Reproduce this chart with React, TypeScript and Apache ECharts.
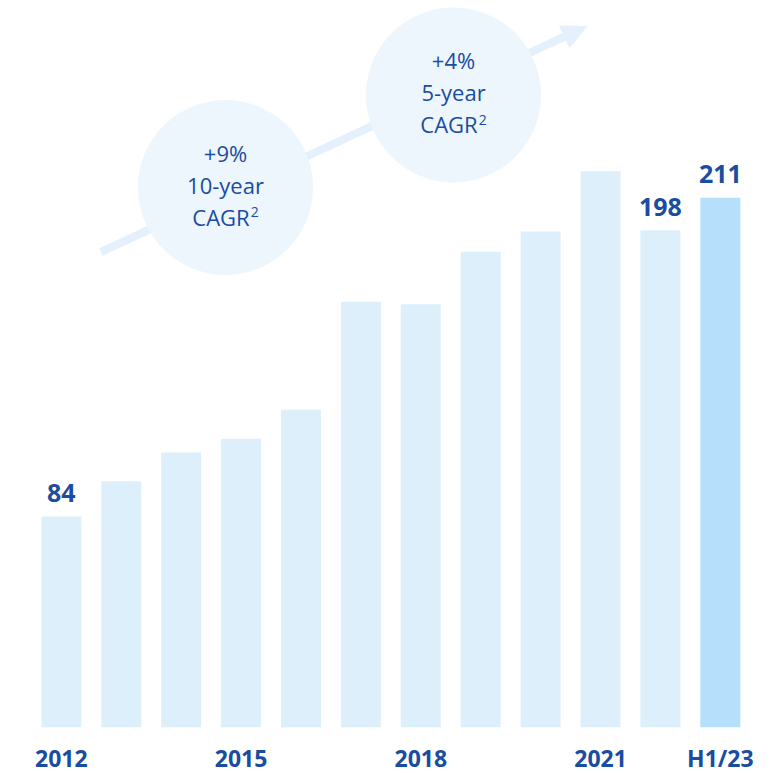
import React, { useEffect, useRef } from "react";
import * as echarts from "echarts";

const categories = ["2012", "2013", "2014", "2015", "2016", "2017", "2018", "2019", "2020", "2021", "2022", "H1/23"];
const values = [84, 98, 109.5, 115, 126.5, 169.5, 168.5, 189.5, 197.5, 221.5, 198, 211];
const labelledIndices = [0, 10, 11];
const shownTickIndices = [0, 3, 6, 9, 11];
const cagrBubbles = [
  { lines: ["+9%", "10-year", "CAGR{s|2}"] },
  { lines: ["+4%", "5-year", "CAGR{s|2}"] },
];

const DARK = "#1A4CA1";
const BAR = "#DEEFFC";
const BAR_LAST = "#B5DFFB";
const BUBBLE = "#EDF6FD";
const ARROW = "#E4F1FC";

export default function App() {
  const ref = useRef<HTMLDivElement>(null);
  useEffect(() => {
    if (!ref.current) return;
    const chart = echarts.init(ref.current, undefined, { renderer: "svg" });

    const sx = 101, sy = 252, ex = 566, ey = 36;
    const len = Math.hypot(ex - sx, ey - sy);
    const dx = (ex - sx) / len, dy = (ey - sy) / len;
    const nx = -dy, ny = dx;
    const headLen = 26, headHalf = 12.5;
    const tip = [ex + dx * (headLen - 2), ey + dy * (headLen - 2)];
    const base = [tip[0] - dx * headLen, tip[1] - dy * headLen];

    const bubbleCenters = [
      [225.5, 187.5],
      [453.5, 95],
    ];
    const R = 87.5;

    const graphics: any[] = [
      {
        type: "line",
        shape: { x1: sx, y1: sy, x2: base[0] + dx * 2, y2: base[1] + dy * 2 },
        style: { stroke: ARROW, lineWidth: 8 },
        z: 1,
      },
      {
        type: "polygon",
        shape: {
          points: [
            tip,
            [base[0] + nx * headHalf, base[1] + ny * headHalf],
            [base[0] - nx * headHalf, base[1] - ny * headHalf],
          ],
        },
        style: { fill: ARROW },
        z: 1,
      },
    ];
    cagrBubbles.forEach((b, i) => {
      const [cx, cy] = bubbleCenters[i];
      graphics.push({
        type: "circle",
        shape: { cx, cy, r: R },
        style: { fill: BUBBLE },
        z: 2,
      });
      b.lines.forEach((t, j) => {
        graphics.push({
          type: "text",
          x: cx,
          y: cy - 3 + (j - 1) * 32,
          style: {
            text: t,
            fill: DARK,
            font: '22px "Open Sans"',
            align: "center",
            verticalAlign: "middle",
            rich: {
              s: {
                fontSize: 14,
                fontFamily: "Open Sans",
                fill: DARK,
                verticalAlign: "top",
                padding: [0, 0, 10, 1],
              },
            },
          },
          z: 3,
        });
      });
    });

    chart.setOption({
      animation: false,
      grid: { left: 31.4, right: 29.7, top: 124.9, bottom: 45.7, containLabel: false },
      xAxis: {
        type: "category",
        data: categories,
        axisLine: { show: false },
        axisTick: { show: false },
        axisLabel: {
          interval: (idx: number) => shownTickIndices.includes(idx),
          color: DARK,
          fontFamily: "Open Sans",
          fontWeight: "bold",
          fontSize: 23,
          margin: 19,
          lineHeight: 24,
        },
      },
      yAxis: {
        type: "value",
        min: 0,
        max: 240,
        show: false,
        splitLine: { show: false },
      },
      series: [
        {
          type: "bar",
          barWidth: 40,
          data: values.map((v, i) => ({
            value: v,
            itemStyle: { color: i === values.length - 1 ? BAR_LAST : BAR },
            label: {
              show: labelledIndices.includes(i),
              position: "top",
              distance: 12,
              color: DARK,
              fontFamily: "Open Sans",
              fontWeight: "bold",
              fontSize: 25,
              formatter: (p: any) => String(p.value),
            },
          })),
        },
      ],
      graphic: graphics,
    });
    return () => chart.dispose();
  }, []);
  return (
    <div
      ref={ref}
      style={{ position: "absolute", left: 0, top: 0, width: 780, height: 773, background: "#fff" }}
    />
  );
}
